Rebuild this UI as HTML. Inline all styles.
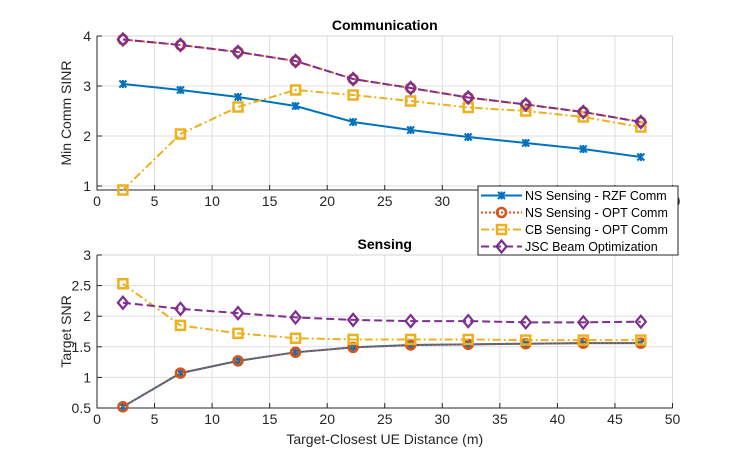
<!DOCTYPE html>
<html><head><meta charset="utf-8"><style>
body{margin:0;background:#fff}
svg{font-family:"Liberation Sans",Arial,sans-serif}
</style></head><body>
<svg id="c" width="744" height="460" xmlns="http://www.w3.org/2000/svg"></svg>
<script>
const xs=[2.25,7.25,12.25,17.25,22.25,27.25,32.25,37.25,42.25,47.25];
const commRZF=[3.04,2.92,2.78,2.6,2.28,2.12,1.98,1.86,1.74,1.58];
const commOPT=[3.93,3.82,3.68,3.5,3.14,2.96,2.77,2.63,2.48,2.28];
const commCB=[0.92,2.04,2.58,2.92,2.82,2.7,2.57,2.5,2.38,2.18];
const commJSC=[3.93,3.82,3.68,3.5,3.14,2.96,2.77,2.63,2.48,2.28];
const senRZF=[0.52,1.07,1.27,1.41,1.49,1.53,1.54,1.55,1.56,1.56];
const senOPT=[0.52,1.07,1.27,1.41,1.49,1.53,1.54,1.55,1.56,1.56];
const senCB=[2.53,1.85,1.72,1.64,1.62,1.62,1.62,1.61,1.61,1.61];
const senJSC=[2.22,2.12,2.05,1.98,1.94,1.92,1.92,1.90,1.90,1.91];
const xTicks=[0,5,10,15,20,25,30,35,40,45,50];
const topTicks=[1,2,3,4];
const botTicks=[0.5,1,1.5,2,2.5,3];
const NS="http://www.w3.org/2000/svg";
const svg=document.getElementById('c');
function mk(t,a,p){const e=document.createElementNS(NS,t);for(const k in a)e.setAttribute(k,a[k]);(p||svg).appendChild(e);return e;}
const X0=97,X1=672.5;
const sx=v=>X0+(v-0)/50*(X1-X0);
const colors={b:'#0072BD',o:'#D95319',y:'#EDB120',p:'#7E2F8E'};
function panel(name,top,bot,ymin,ymax,yt,title,ylab,series){
  const g=mk('g',{});
  const sy=v=>bot-(v-ymin)/(ymax-ymin)*(bot-top);
  xTicks.forEach(t=>{const l=mk('line',{x1:sx(t),x2:sx(t),y1:top,y2:bot,stroke:'#dfdfdf','stroke-width':1},g);});
  yt.forEach(t=>{const l=mk('line',{x1:X0,x2:X1,y1:sy(t),y2:sy(t),stroke:'#dfdfdf','stroke-width':1},g);});
  mk('rect',{x:X0,y:top,width:X1-X0,height:bot-top,fill:'none',stroke:'#d6d6d6','stroke-width':1},g);
  mk('path',{d:`M${X0},${top}L${X0},${bot}L${X1},${bot}`,fill:'none',stroke:'#262626','stroke-width':1},g);
  xTicks.forEach(t=>{mk('line',{x1:sx(t),x2:sx(t),y1:bot,y2:bot-5,stroke:'#262626'},g);
    const tx=mk('text',{x:sx(t),y:bot+16,'text-anchor':'middle','font-size':14,fill:'#262626'},g);tx.textContent=t;});
  yt.forEach(t=>{mk('line',{x1:X0,x2:X0+5,y1:sy(t),y2:sy(t),stroke:'#262626'},g);
    const tx=mk('text',{x:X0-6,y:sy(t)+5,'text-anchor':'end','font-size':14,fill:'#262626'},g);tx.textContent=t;});
  const ti=mk('text',{x:(X0+X1)/2,y:top-6,'text-anchor':'middle','font-size':14,'font-weight':'bold',fill:'#000'},g);ti.textContent=title;
  const yl=mk('text',{x:0,y:0,'text-anchor':'middle','font-size':14,fill:'#262626',transform:`translate(${X0-26},${(top+bot)/2}) rotate(-90)`},g);yl.textContent=ylab;
  series.forEach(s=>{
    const pts=xs.map((x,i)=>sx(x)+','+sy(s.d[i])).join(' ');
    const pl=mk('polyline',{points:pts,fill:'none',stroke:s.c,'stroke-width':2,'stroke-dasharray':s.dash||''},g);
    
    xs.forEach((x,i)=>{const m=marker(s.m,sx(x),sy(s.d[i]),s.c,g);});
  });
}
function marker(type,x,y,c,g){
  if(type==='x'){const p=mk('path',{d:`M${x-3.5},${y-3.5}L${x+3.5},${y+3.5}M${x-3.5},${y+3.5}L${x+3.5},${y-3.5}M${x},${y-4}L${x},${y+4}`,stroke:c,'stroke-width':2,fill:'none'},g);return p;}
  if(type==='o')return mk('circle',{cx:x,cy:y,r:4.5,fill:'none',stroke:c,'stroke-width':2.5},g);
  if(type==='s')return mk('rect',{x:x-4.5,y:y-4.5,width:9,height:9,fill:'none',stroke:c,'stroke-width':2.5},g);
  return mk('path',{d:`M${x},${y-6}L${x+5},${y}L${x},${y+6}L${x-5},${y}Z`,fill:'none',stroke:c,'stroke-width':2.2},g);
}
panel('comm',36,190,0.92,4,topTicks,'Communication','Min Comm SINR',[
 {n:'rzf',d:commRZF,c:colors.b,m:'x'},
 {n:'opt',d:commOPT,c:colors.o,m:'o',dash:'2,2'},
 {n:'cb',d:commCB,c:colors.y,m:'s',dash:'8,3,2,3'},
 {n:'jsc',d:commJSC,c:colors.p,m:'d',dash:'8,4'}]);
panel('sens',255,408,0.5,3,botTicks,'Sensing','Target SNR',[
 {n:'rzf',d:senRZF,c:colors.b,m:'x'},
 {n:'opt',d:senOPT,c:colors.o,m:'o',dash:'2,2'},
 {n:'cb',d:senCB,c:colors.y,m:'s',dash:'8,3,2,3'},
 {n:'jsc',d:senJSC,c:colors.p,m:'d',dash:'8,4'}]);
const xl=mk('text',{x:(X0+X1)/2,y:444,'text-anchor':'middle','font-size':14,fill:'#262626'});xl.textContent='Target-Closest UE Distance (m)';


const lg=mk('g',{});


mk('rect',{x:478,y:186,width:200,height:69,fill:'#fff',stroke:'#262626','stroke-width':1},lg);
const items=[['NS Sensing - RZF Comm',colors.b,'x',''],['NS Sensing - OPT Comm',colors.o,'o','2,2'],['CB Sensing - OPT Comm',colors.y,'s','8,3,2,3'],['JSC Beam Optimization',colors.p,'d','8,4']];
items.forEach((it,i)=>{const y=195.5+i*17;const e=mk('g',{},lg);
 
 
 mk('line',{x1:481,x2:522,y1:y,y2:y,stroke:it[1],'stroke-width':2,'stroke-dasharray':it[3]},e);
 marker(it[2],501.5,y,it[1],e);
 const t=mk('text',{x:525,y:y+4.5,'font-size':12.5,fill:'#000'},e);t.textContent=it[0];});
</script>
</body></html>
